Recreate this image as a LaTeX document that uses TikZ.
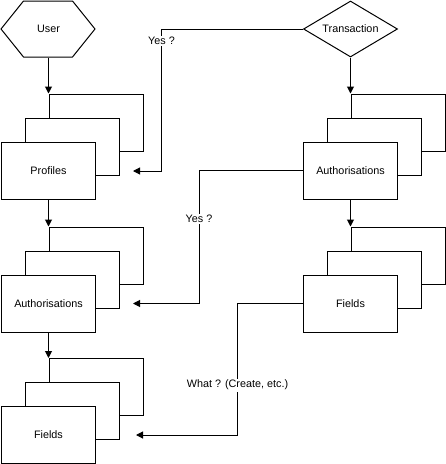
\documentclass[tikz,border=0pt]{standalone}
\usepackage{fontspec}
\setmainfont{Liberation Sans}
\usetikzlibrary{shapes.geometric}
\usetikzlibrary{arrows.meta}

\begin{document}
\begin{tikzpicture}[x=1pt, y=-1pt, line width=1pt,
    every node/.style={font=\fontsize{10.8}{13}\selectfont},
    card/.style={draw, fill=white, minimum width=94pt, minimum height=57pt, inner sep=0pt},
    choice/.style={diamond, draw, fill=white, aspect=1.68, minimum width=94pt, minimum height=56pt, inner sep=0pt},
    link/.style={-{Triangle[length=7pt,width=7pt]}},
    tag/.style={fill=white, inner sep=1.5pt}]
    \useasboundingbox (0,0) rectangle (446,464);

    % left column
    \node[minimum width=94pt, minimum height=56pt, inner sep=0pt] (user) at (48.5,29) {User};
    \draw (user.west) -- ++(22.5,-28) -- ++(49,0) -- ++(22.5,28) -- ++(-22.5,28) -- ++(-49,0) -- cycle;

    \node[card] (prof3) at (96.5,122.5) {};
    \node[card] (prof2) at (72.5,146.5) {};
    \node[card] (prof1) at (48.5,170.5) {Profiles};

    \node[card] (auth3) at (96.5,255.5) {};
    \node[card] (auth2) at (72.5,279.5) {};
    \node[card] (auth1) at (48.5,303.5) {Authorisations};

    \node[card] (field3) at (96.5,387) {};
    \node[card] (field2) at (72.5,411) {};
    \node[card] (field1) at (48.5,435) {Fields};

    % right column
    \node[choice] (trans) at (350.5,29) {Transaction};

    \node[card] (rauth3) at (398.5,122.5) {};
    \node[card] (rauth2) at (374.5,146.5) {};
    \node[card] (rauth1) at (350.5,170.5) {Authorisations};

    \node[card] (rfield3) at (398.5,255.5) {};
    \node[card] (rfield2) at (374.5,279.5) {};
    \node[card] (rfield1) at (350.5,303.5) {Fields};

    % downward arrows
    \draw[link] (user) -- (user |- prof3.north);
    \draw[link] (prof1) -- (prof1 |- auth3.north);
    \draw[link] (auth1) -- (auth1 |- field3.north);
    \draw[link] (trans) -- (trans |- rauth3.north);
    \draw[link] (rauth1) -- (rauth1 |- rfield3.north);

    % cross links
    \coordinate (bend1) at (161.5,171);
    \coordinate (in1) at (133,171);
    \coordinate (bend2) at (199,303.5);
    \coordinate (in2) at (133,303.5);
    \coordinate (bend3) at (237.5,435);
    \coordinate (in3) at (136,435);

    \draw[link] (trans.west) -| (bend1) node[tag, pos=0.542] {Yes ?} -- (in1);
    \draw[link] (rauth1.west) -| (bend2) node[tag, pos=0.682] {Yes ?} -- (in2);
    \draw[link] (rfield1.west) -| (bend3) node[tag, pos=0.81] {What ? (Create, etc.)} -- (in3);
\end{tikzpicture}
\end{document}
